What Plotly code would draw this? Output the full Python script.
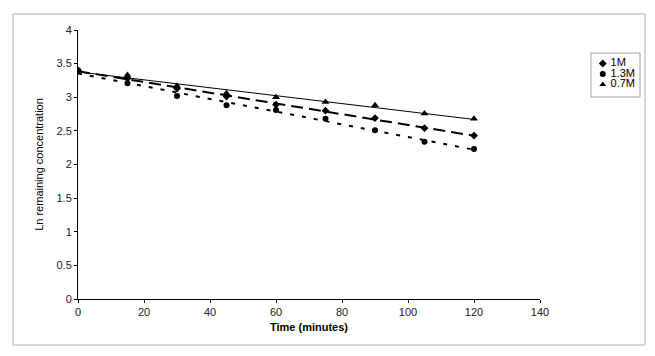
import numpy as np
import plotly.graph_objects as go

# ---- data ----
time_min = [0, 15, 30, 45, 60, 75, 90, 105, 120]
ln_1M = [3.40, 3.28, 3.13, 3.01, 2.89, 2.80, 2.69, 2.54, 2.43]
ln_13M = [3.40, 3.21, 3.02, 2.88, 2.81, 2.68, 2.51, 2.34, 2.23]
ln_07M = [3.40, 3.33, 3.17, 3.06, 3.00, 2.93, 2.88, 2.76, 2.68]
series_names = ["1M", "1.3M", "0.7M"]
x_ticks = [0, 20, 40, 60, 80, 100, 120, 140]
y_ticks = [0, 0.5, 1, 1.5, 2, 2.5, 3, 3.5, 4]

# the page body adds an 8px margin; build the figure in page pixels minus that
OFF = 8
W, H = 655 - OFF, 356 - OFF
PL, PR, PT, PB = 78, 540, 30, 299

def px_x(p):
    return (p - OFF) / W

def px_y(p):
    return 1 - (p - OFF) / H

symbols = {"1M": "diamond", "1.3M": "circle", "0.7M": "triangle-up"}
values = {"1M": ln_1M, "1.3M": ln_13M, "0.7M": ln_07M}
line_styles = {
    "1M": dict(color="black", width=2, dash="12px,6px"),
    "1.3M": dict(color="black", width=2, dash="4px,8px"),
    "0.7M": dict(color="black", width=1, dash="solid"),
}
msize = {"1M": 6, "1.3M": 6, "0.7M": 7}

fig = go.Figure()
t = np.array(time_min, dtype=float)
t_ends = np.array([min(time_min), max(time_min)], dtype=float)
for name in series_names:
    v = np.array(values[name])
    slope, icpt = np.polyfit(t, v, 1)
    fig.add_trace(go.Scatter(x=t_ends, y=slope * t_ends + icpt, mode="lines",
                             line=line_styles[name], showlegend=False,
                             hoverinfo="skip"))
for name in series_names:
    fig.add_trace(go.Scatter(x=time_min, y=values[name], mode="markers",
                             name=name, showlegend=False,
                             marker=dict(symbol=symbols[name], size=msize[name],
                                         color="black")))

# compact legend drawn on a small hidden axis
leg_rows = [2, 1, 0]
for name, r in zip(series_names, leg_rows):
    fig.add_trace(go.Scatter(x=[0.24], y=[r], mode="markers+text",
                             text=[" " + name], textposition="middle right",
                             textfont=dict(family="Liberation Sans, Arial", size=11, color="black"),
                             marker=dict(symbol=symbols[name], size=6, color="black"),
                             xaxis="x2", yaxis="y2", showlegend=False,
                             hoverinfo="skip"))

font = dict(family="Liberation Sans, Arial, sans-serif", size=11, color="black")
fig.update_layout(
    width=W, height=H,
    margin=dict(l=0, r=0, t=0, b=0),
    paper_bgcolor="white", plot_bgcolor="white",
    font=font,
    showlegend=False,
    xaxis=dict(domain=[px_x(PL), px_x(PR)], range=[0, 140], tickvals=x_ticks,
               ticks="outside", ticklen=3, tickcolor="black", showgrid=False,
               zeroline=False, showline=True, linecolor="black", linewidth=1,
               tickfont=dict(size=11, color="#222"),
               title=dict(text="<b>Time (minutes)</b>", font=dict(size=11),
                          standoff=6),
               automargin=False, fixedrange=True),
    yaxis=dict(domain=[px_y(PB), px_y(PT)], range=[0, 4], tickvals=y_ticks,
               ticktext=[str(v) for v in y_ticks],
               ticks="outside", ticklen=3, tickcolor="black", showgrid=False,
               zeroline=False, showline=True, linecolor="black", linewidth=1,
               tickfont=dict(size=11, color="#222"),
               title=dict(text="Ln remaining concentration",
                          font=dict(size=11, family="Liberation Sans Narrow, Arial Narrow, Liberation Sans"),
                          standoff=10),
               automargin=False, fixedrange=True),
    xaxis2=dict(domain=[px_x(591), px_x(640)], range=[0, 1], visible=False,
                anchor="y2", fixedrange=True),
    yaxis2=dict(domain=[px_y(97), px_y(53)], range=[-1.2, 3.0], visible=False,
                anchor="x2", fixedrange=True),
    shapes=[
        dict(type="rect", xref="paper", yref="paper",
             x0=px_x(13), x1=px_x(645), y0=px_y(345), y1=px_y(14),
             line=dict(color="#b0b0b0", width=1), fillcolor="rgba(0,0,0,0)",
             layer="below"),
        dict(type="rect", xref="paper", yref="paper",
             x0=px_x(591), x1=px_x(640), y0=px_y(97), y1=px_y(53),
             line=dict(color="#a0a0a0", width=1), fillcolor="rgba(0,0,0,0)"),
    ],
)

fig.write_html("out.html")
